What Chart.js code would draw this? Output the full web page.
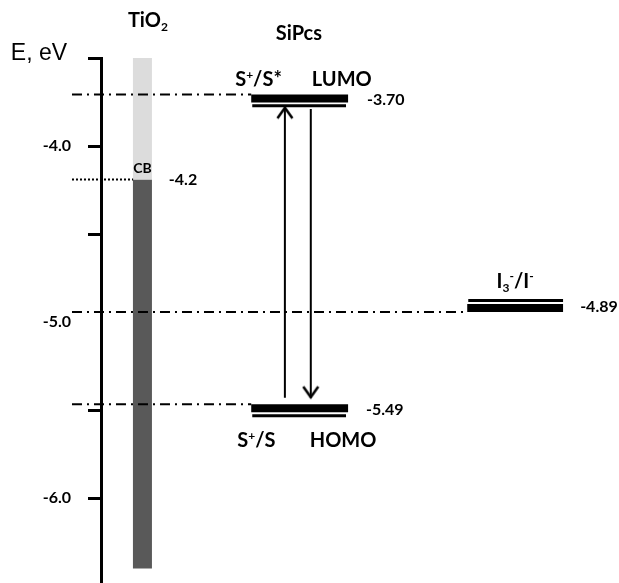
<!DOCTYPE html>
<html>
<head>
<meta charset="utf-8">
<script src="https://cdn.jsdelivr.net/npm/chart.js@4.4.1/dist/chart.umd.min.js"></script>
<style>
  html, body { margin: 0; padding: 0; background: #fff; overflow: hidden; }
</style>
</head>
<body>
<canvas id="chart" width="619" height="620"></canvas>
<script>
// niveaux d'energie (eV)
const lumo = -3.73;
const homo = -5.49;
const redox = -4.92;     // I3-/I-
const cbEdge = -4.19;    // bande de conduction TiO2
const tio2Range = [-3.5, -6.40];

// textes des niveaux
const lumoText = '-3.70';
const homoText = '-5.49';
const redoxText = '-4.89';
const cbText = '-4.2';

// axe Y
const yTicks = [-6.5, -6.0, -5.5, -5.0, -4.5, -4.0, -3.5];
const yTickLabels = { '-6': '-6.0', '-5': '-5.0', '-4': '-4.0' };

// colonnes (unites x arbitraires 0..100)
const dyeSpan = [29, 47.7];
const redoxSpan = [70.7, 89.2];
const tio2X = 8.0;
const guideStart = -5.6;
const upArrowX = 35.5;
const downArrowX = 40.5;
const upArrow = [-5.43, -3.78];
const downArrow = [-3.79, -5.43];

const EDGE = 0.023;  // demi-epaisseur du trait epais
const THIN = 0.042;  // ecart du trait fin

function seg(x0, x1, y0, y1) {
  return [{ x: x0, y: y0 }, { x: x1, y: y1 }];
}
function line(data, color, width, extra) {
  return Object.assign({
    type: 'line', data, borderColor: color, borderWidth: width,
    pointRadius: 0, fill: false, clip: false, borderCapStyle: 'butt', order: 0
  }, extra || {});
}

// pointe de fleche (chevron)
function makeArrowHead() {
  const c = document.createElement('canvas');
  c.width = 18; c.height = 26;
  const g = c.getContext('2d');
  g.strokeStyle = '#000';
  g.lineWidth = 2.5;
  g.beginPath();
  g.moveTo(1.5, 24);
  g.lineTo(9, 13.5);
  g.lineTo(16.5, 24);
  g.stroke();
  return c;
}
const arrowHead = makeArrowHead();

const dashDot = [10, 5, 2, 5];
const datasets = [
  // colonne TiO2
  line(seg(tio2X, tio2X, tio2Range[0], cbEdge), '#dcdcdc', 19, { order: 10 }),
  line(seg(tio2X, tio2X, cbEdge, tio2Range[1]), '#595959', 19, { order: 10 }),
  // traits guides
  line(seg(guideStart, 6.2, cbEdge, cbEdge), '#000', 2, { borderDash: [2, 2] }),
  line(seg(guideStart, dyeSpan[0], lumo + EDGE, lumo + EDGE), '#000', 2, { borderDash: dashDot }),
  line(seg(guideStart, dyeSpan[0], homo + EDGE, homo + EDGE), '#000', 2, { borderDash: dashDot }),
  line(seg(guideStart, redoxSpan[0], redox - EDGE, redox - EDGE), '#000', 2, { borderDash: dashDot }),
  // niveaux (trait epais + trait fin)
  line(seg(dyeSpan[0], dyeSpan[1], lumo, lumo), '#000', 8),
  line(seg(dyeSpan[0] + 0.2, dyeSpan[1] - 0.4, lumo - THIN, lumo - THIN), '#000', 3),
  line(seg(dyeSpan[0], dyeSpan[1], homo, homo), '#000', 8),
  line(seg(dyeSpan[0] + 0.2, dyeSpan[1] - 0.4, homo - THIN, homo - THIN), '#000', 3),
  line(seg(redoxSpan[0], redoxSpan[1], redox, redox), '#000', 8),
  line(seg(redoxSpan[0] + 0.2, redoxSpan[1], redox + THIN, redox + THIN), '#000', 3),
  // fleches
  line(seg(upArrowX, upArrowX, upArrow[0], upArrow[1]), '#000', 2,
       { pointStyle: arrowHead, pointRadius: [0, 6], pointRotation: 0 }),
  line(seg(downArrowX, downArrowX, downArrow[0], downArrow[1]), '#000', 2,
       { pointStyle: arrowHead, pointRadius: [0, 6], pointRotation: 180 })
];

// textes : x en unites, y en eV, dy en px
const bold = s => `bold ${s}px Lato`;
const notes = [
  { parts: [['E, eV']], x: -17.4, y: tio2Range[0], dy: 2, font: '23px "Liberation Sans"' },
  { parts: [['TiO'], ['2', 'sub']], x: 5.2, y: tio2Range[0], dy: -31, font: bold(20) },
  { parts: [['SiPcs']], x: 38.2, y: tio2Range[0], dy: -18, font: bold(20), center: true },
  { parts: [['S'], ['+', 'sup'], ['/S*']], x: 25.9, y: lumo, dy: -12, font: bold(20) },
  { parts: [['LUMO']], x: 40.7, y: lumo, dy: -12, font: bold(20) },
  { parts: [[lumoText]], x: dyeSpan[1] + 3.65, y: lumo, dy: 7, font: bold(16) },
  { parts: [['CB']], x: tio2X, y: cbEdge, dy: -6, font: bold(14), center: true },
  { parts: [[cbText]], x: 13.1, y: cbEdge, dy: 6, font: bold(16) },
  { parts: [['I'], ['3', 'sub'], ['-', 'sup'], ['/I'], ['-', 'sup']],
    x: (redoxSpan[0] + redoxSpan[1]) / 2, y: redox, dy: -20, font: bold(20), center: true },
  { parts: [[redoxText]], x: redoxSpan[1] + 3.3, y: redox, dy: 4, font: bold(16) },
  { parts: [[homoText]], x: dyeSpan[1] + 3.45, y: homo, dy: 7, font: bold(16) },
  { parts: [['S'], ['+', 'sup'], ['/S']], x: 26.3, y: homo, dy: 39, font: bold(20) },
  { parts: [['HOMO']], x: 40.3, y: homo, dy: 39, font: bold(20) }
];

const notesPlugin = {
  id: 'notes',
  afterDatasetsDraw(chart) {
    const { ctx, scales: { x, y } } = chart;
    ctx.save();
    ctx.fillStyle = '#000';
    ctx.textBaseline = 'alphabetic';
    notes.forEach(n => {
      const size = parseFloat(n.font.match(/(\d+)px/)[1]);
      const small = n.font.replace(/\d+px/, Math.round(size * 0.62) + 'px');
      let total = 0;
      n.parts.forEach(([t, mode]) => {
        ctx.font = mode ? small : n.font;
        total += ctx.measureText(t).width;
      });
      let px = x.getPixelForValue(n.x) - (n.center ? total / 2 : 0);
      const py = y.getPixelForValue(n.y) + n.dy;
      n.parts.forEach(([t, mode]) => {
        ctx.font = mode ? small : n.font;
        let off = 0;
        if (mode === 'sup') off = -size * 0.38;
        if (mode === 'sub') off = size * 0.2;
        ctx.fillText(t, px, py + off);
        px += ctx.measureText(t).width;
      });
    });
    ctx.restore();
  }
};

new Chart(document.getElementById('chart'), {
  type: 'line',
  data: { datasets },
  options: {
    responsive: false,
    animation: false,
    events: [],
    layout: { autoPadding: false, padding: { top: 58, left: 0, right: 0, bottom: 34 } },
    plugins: { legend: { display: false }, tooltip: { enabled: false } },
    scales: {
      x: { type: 'linear', min: 0, max: 100, display: false },
      y: {
        type: 'linear', position: 'left', min: -6.5, max: -3.5,
        afterBuildTicks: s => { s.ticks = yTicks.map(v => ({ value: v })); },
        afterFit: s => { s.width = 101; },
        ticks: {
          callback: v => yTickLabels[String(v)] ?? '',
          color: '#000',
          padding: 17,
          autoSkip: false,
          font: { family: 'Lato', weight: 'bold', size: 16 }
        },
        grid: {
          drawOnChartArea: false,
          drawTicks: true,
          tickLength: 13,
          lineWidth: 3,
          color: c => (c.tick && c.tick.value === -5) ? 'rgba(0,0,0,0)' : '#000'
        },
        border: { display: true, color: '#000', width: 3 }
      }
    }
  },
  plugins: [notesPlugin]
});
</script>
</body>
</html>
